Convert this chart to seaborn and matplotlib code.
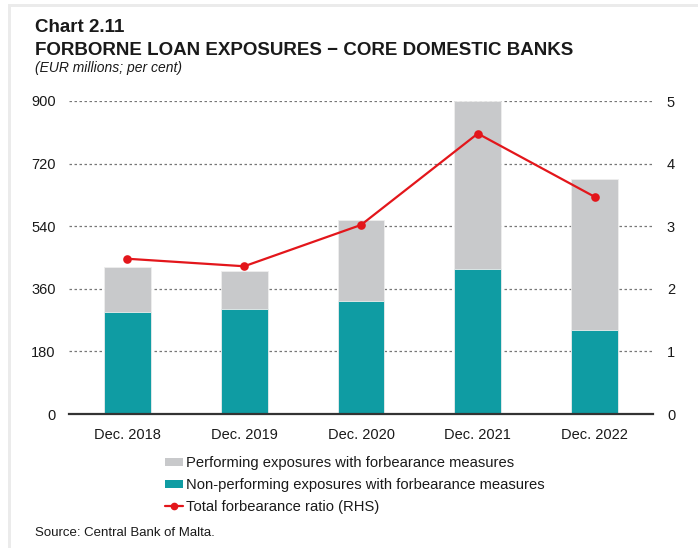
import numpy as np
import pandas as pd
import matplotlib
matplotlib.use("Agg")
import matplotlib.pyplot as plt
from matplotlib.patches import Patch, Rectangle
from matplotlib.lines import Line2D
import seaborn as sns

# Data (EUR millions; per cent)
periods = ["Dec. 2018", "Dec. 2019", "Dec. 2020", "Dec. 2021", "Dec. 2022"]
non_performing = [293, 302, 325, 417, 242]
performing = [130, 109, 233, 483, 434]
forbearance_ratio = [2.48, 2.36, 3.02, 4.48, 3.47]
left_ticks = [0, 180, 360, 540, 720, 900]
right_ticks = [0, 1, 2, 3, 4, 5]

totals = [a + b for a, b in zip(non_performing, performing)]
df = pd.DataFrame({"period": periods, "npe": non_performing,
                   "total": totals, "ratio": forbearance_ratio})

sns.set_theme(style="white")
plt.rcParams["font.family"] = ["Liberation Sans", "DejaVu Sans"]

GREY = "#C8C9CB"
TEAL = "#0F9CA3"
RED = "#E3161B"
TEXT = "#1a1a1a"

fig = plt.figure(figsize=(6.98, 5.48), dpi=100)
ax = fig.add_axes([69 / 698, 1 - 414 / 548, (653 - 69) / 698, (414 - 101) / 548])

# Stacked bars: total in grey, non-performing part in teal on top of it
sns.barplot(data=df, x="period", y="total", color=GREY, width=0.4,
            saturation=1, edgecolor="#eeeeee", linewidth=0.6, ax=ax)
sns.barplot(data=df, x="period", y="npe", color=TEAL, width=0.4,
            saturation=1, edgecolor="#eeeeee", linewidth=0.6, ax=ax)

ax.set_xlim(-0.5, 4.5)
ax.set_ylim(0, 900)
ax.set_yticks(left_ticks)
ax.set_yticklabels([str(t) for t in left_ticks])
ax.set_xlabel("")
ax.set_ylabel("")
for y in left_ticks[1:]:
    ax.axhline(y, color="#777777", linestyle=(0, (2, 2)), linewidth=0.9, zorder=0)
for side in ("left", "right", "top"):
    ax.spines[side].set_visible(False)
ax.spines["bottom"].set_color("#333333")
ax.spines["bottom"].set_linewidth(1.6)
ax.tick_params(axis="both", length=0, labelsize=10.5, colors=TEXT)
ax.tick_params(axis="x", pad=10)
ax.tick_params(axis="y", pad=9.5)

# Forbearance ratio on the right-hand scale
ax2 = ax.twinx()
sns.pointplot(data=df, x="period", y="ratio", color=RED, markers="o",
              markersize=5, linewidth=1.6, ax=ax2)
ax2.set_xlim(-0.5, 4.5)
ax2.set_ylim(0, 5)
ax2.set_yticks(right_ticks)
ax2.set_ylabel("")
ax2.set_xlabel("")
for side in ("left", "right", "top", "bottom"):
    ax2.spines[side].set_visible(False)
ax2.tick_params(axis="y", length=0, labelsize=10.5, colors=TEXT, pad=10)

# Titles
fig.text(35 / 698, 1 - 28 / 548, "Chart 2.11", fontsize=13.5, fontweight="bold",
         color=TEXT, va="center", ha="left")
fig.text(35 / 698, 1 - 50 / 548, "FORBORNE LOAN EXPOSURES \u2212 CORE DOMESTIC BANKS",
         fontsize=13.5, fontweight="bold", color=TEXT, va="center", ha="left")
fig.text(35 / 698, 1 - 68 / 548, "(EUR millions; per cent)", fontsize=10,
         style="italic", color=TEXT, va="center", ha="left")

# Legend
handles = [
    Patch(facecolor=GREY, edgecolor="none"),
    Patch(facecolor=TEAL, edgecolor="none"),
    Line2D([0], [0], color=RED, marker="o", markersize=4.5, linewidth=1.6),
]
labels = ["Performing exposures with forbearance measures",
          "Non-performing exposures with forbearance measures",
          "Total forbearance ratio (RHS)"]
fig.legend(handles, labels, loc="upper left",
           bbox_to_anchor=(162 / 698, 1 - 453 / 548), frameon=False,
           fontsize=10.6, handlelength=1.2, handleheight=0.5,
           handletextpad=0.2, labelspacing=0.55, borderpad=0.2,
           borderaxespad=0, labelcolor=TEXT)

fig.text(35 / 698, 1 - 533 / 548, "Source: Central Bank of Malta.", fontsize=9.5,
         color=TEXT, va="center", ha="left")

# Light page frame along the top and left edges
fig.add_artist(Rectangle((8 / 698, 1 - 7 / 548), 1, 3 / 548, transform=fig.transFigure,
                         facecolor="#EBEBEB", edgecolor="none"))
fig.add_artist(Rectangle((8 / 698, 0), 3 / 698, 1 - 7 / 548, transform=fig.transFigure,
                         facecolor="#EBEBEB", edgecolor="none"))

fig.savefig("out.png", dpi=100, facecolor="white")
